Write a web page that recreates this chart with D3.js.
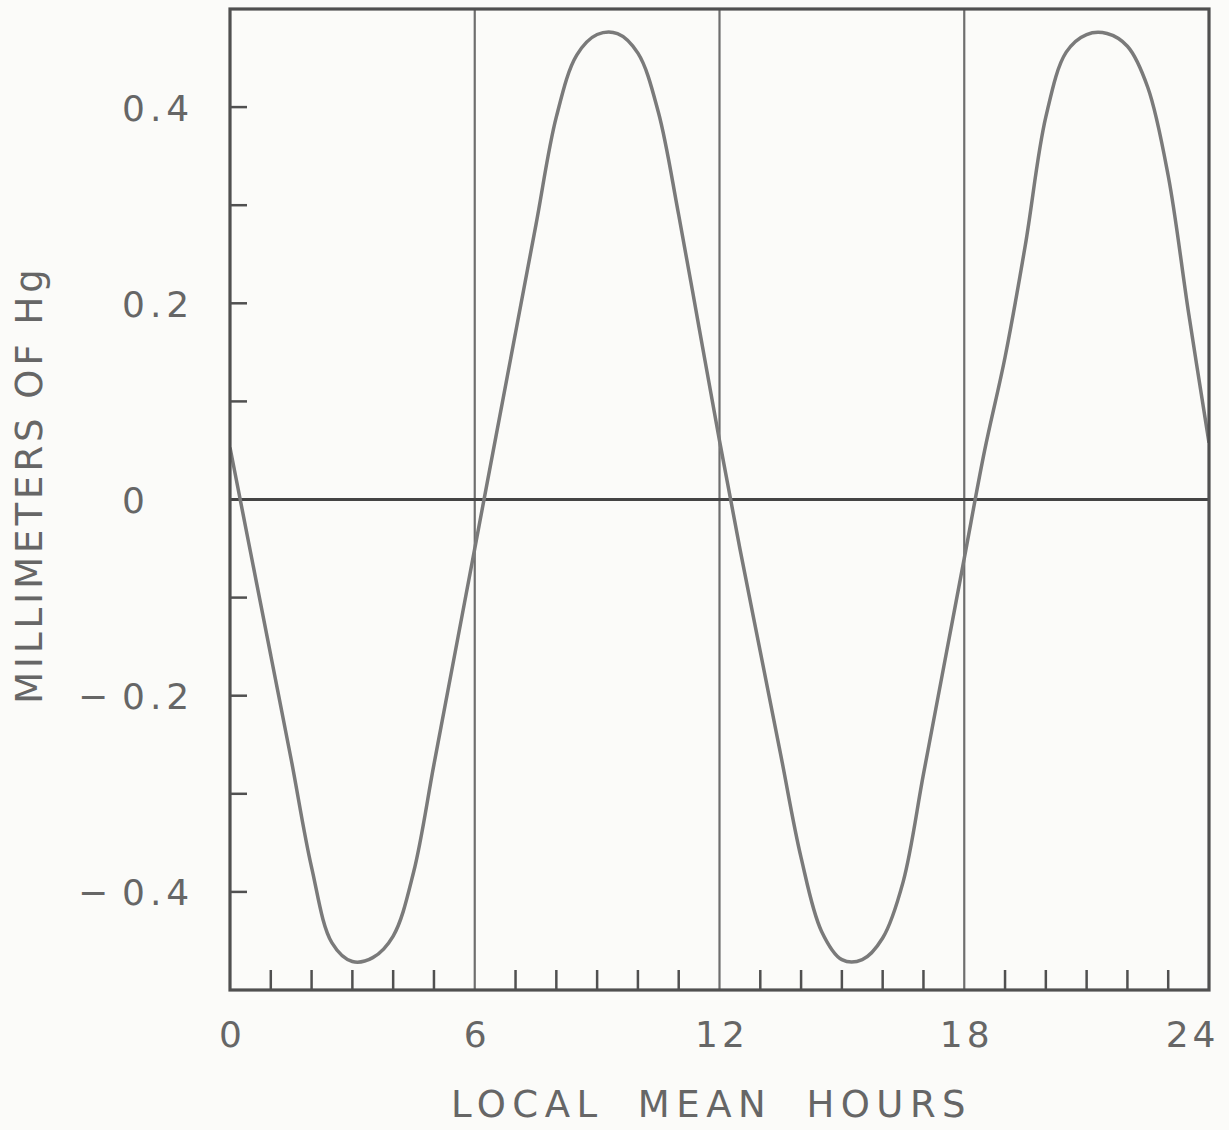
<!DOCTYPE html>
<html>
<head>
<meta charset="utf-8">
<script src="https://cdn.jsdelivr.net/npm/d3@7"></script>
<style>
  html, body { margin: 0; padding: 0; background: #fbfbf9; }
  svg { display: block; }
  .lbl { font-family: "DejaVu Sans", sans-serif; fill: #666; }
</style>
</head>
<body>
<div id="chart"></div>
<script>
// local mean hours, read every half hour
const hours = [
  0, 0.5, 1, 1.5, 2, 2.5, 3, 3.5, 4, 4.5, 5, 5.5,
  6, 6.5, 7, 7.5, 8, 8.5, 9, 9.5, 10, 10.5, 11, 11.5,
  12, 12.5, 13, 13.5, 14, 14.5, 15, 15.5, 16, 16.5, 17, 17.5,
  18, 18.5, 19, 19.5, 20, 20.5, 21, 21.5, 22, 22.5, 23, 23.5, 24
];
// millimeters of Hg
const pressure = [
  0.053, -0.053, -0.159, -0.265, -0.375, -0.452, -0.471, -0.467, -0.445, -0.38, -0.27, -0.16,
  -0.05, 0.06, 0.17, 0.28, 0.39, 0.453, 0.474, 0.475, 0.455, 0.395, 0.29, 0.175,
  0.06, -0.05, -0.155, -0.26, -0.365, -0.44, -0.469, -0.469, -0.447, -0.39, -0.28, -0.17,
  -0.06, 0.05, 0.145, 0.26, 0.39, 0.456, 0.474, 0.475, 0.462, 0.42, 0.33, 0.19, 0.058
];

const xLabels = [0, 6, 12, 18, 24];
const xGrid = [6, 12, 18];
const xMinor = [1, 2, 3, 4, 5, 7, 8, 9, 10, 11, 13, 14, 15, 16, 17, 19, 20, 21, 22, 23];
const yLabels = [0.4, 0.2, 0, -0.2, -0.4];
const yMinor = [0.4, 0.3, 0.2, 0.1, -0.1, -0.2, -0.3, -0.4];

const W = 1229, H = 1130;
const margin = {top: 9, right: 20, bottom: 140, left: 230};
const width = W - margin.left - margin.right;
const height = H - margin.top - margin.bottom;

const ink = '#505050';

const x = d3.scaleLinear().domain([0, 24]).range([0, width]);
const y = d3.scaleLinear().domain([-0.5, 0.5]).range([height, 0]);

const svg = d3.select('#chart').append('svg')
  .attr('width', W)
  .attr('height', H);

const g = svg.append('g')
  .attr('transform', 'translate(' + margin.left + ',' + margin.top + ')');

// vertical grid lines at 6, 12, 18
g.selectAll('.vgrid')
  .data(xGrid)
  .enter().append('line')
  .attr('x1', d => x(d)).attr('x2', d => x(d))
  .attr('y1', 0).attr('y2', height)
  .attr('stroke', '#6e6e6e')
  .attr('stroke-width', 2.2);

// zero line
g.append('line')
  .attr('x1', 0).attr('x2', width)
  .attr('y1', y(0)).attr('y2', y(0))
  .attr('stroke', '#444')
  .attr('stroke-width', 3);

// minor ticks inside the frame
g.selectAll('.xminor')
  .data(xMinor)
  .enter().append('line')
  .attr('x1', d => x(d)).attr('x2', d => x(d))
  .attr('y1', height).attr('y2', height - 20)
  .attr('stroke', ink)
  .attr('stroke-width', 2.5);

g.selectAll('.yminor')
  .data(yMinor)
  .enter().append('line')
  .attr('x1', 0).attr('x2', 17)
  .attr('y1', d => y(d)).attr('y2', d => y(d))
  .attr('stroke', ink)
  .attr('stroke-width', 2.5);

// the curve
const line = d3.line()
  .x((d, i) => x(hours[i]))
  .y(d => y(d))
  .curve(d3.curveCatmullRom.alpha(0.5));

g.append('clipPath').attr('id', 'clip')
  .append('rect').attr('width', width).attr('height', height);

g.append('path')
  .datum(pressure)
  .attr('clip-path', 'url(#clip)')
  .attr('fill', 'none')
  .attr('stroke', '#7a7a7a')
  .attr('stroke-width', 3.5)
  .attr('d', line);

// frame
g.append('rect')
  .attr('width', width).attr('height', height)
  .attr('fill', 'none')
  .attr('stroke', ink)
  .attr('stroke-width', 3.2);

// x labels
g.append('g')
  .attr('transform', 'translate(0,' + height + ')')
  .call(d3.axisBottom(x).tickValues(xLabels).tickSize(0).tickPadding(0).tickFormat(d3.format('d')))
  .call(a => a.select('.domain').remove())
  .selectAll('text')
  .attr('class', 'lbl')
  .attr('fill', null)
  .attr('dy', null)
  .attr('y', 57)
  .style('font-size', '36px')
  .style('letter-spacing', '4px')
  .attr('text-anchor', d => d === 24 ? 'end' : 'middle')
  .attr('x', d => d === 24 ? 10 : 2);

// y labels: digits aligned on the leading 0, minus sign set apart
const yAxis = g.append('g')
  .call(d3.axisLeft(y).tickValues(yLabels).tickSize(0).tickPadding(0).tickFormat(d => d3.format('.1~f')(Math.abs(d))))
  .call(a => a.select('.domain').remove());

yAxis.selectAll('text')
  .attr('class', 'lbl')
  .attr('fill', null)
  .attr('text-anchor', 'start')
  .attr('x', 122 - margin.left)
  .attr('dy', '0.36em')
  .style('font-size', '36px')
  .style('letter-spacing', '5px');

yAxis.selectAll('.tick')
  .filter(d => d < 0)
  .append('text')
  .attr('class', 'lbl')
  .attr('text-anchor', 'middle')
  .attr('x', 93 - margin.left)
  .attr('dy', '0.36em')
  .style('font-size', '36px')
  .text('\u2212');

// axis titles
svg.append('text')
  .attr('class', 'lbl')
  .attr('transform', 'translate(42,' + (margin.top + y(0) - 15) + ') rotate(-90)')
  .attr('text-anchor', 'middle')
  .style('font-size', '37px')
  .style('letter-spacing', '4px')
  .text('MILLIMETERS OF Hg');

svg.append('text')
  .attr('class', 'lbl')
  .attr('x', margin.left + x(12) - 8)
  .attr('y', 1117)
  .attr('text-anchor', 'middle')
  .style('font-size', '37px')
  .style('letter-spacing', '6.5px')
  .style('word-spacing', '16px')
  .text('LOCAL MEAN HOURS');
</script>
</body>
</html>
